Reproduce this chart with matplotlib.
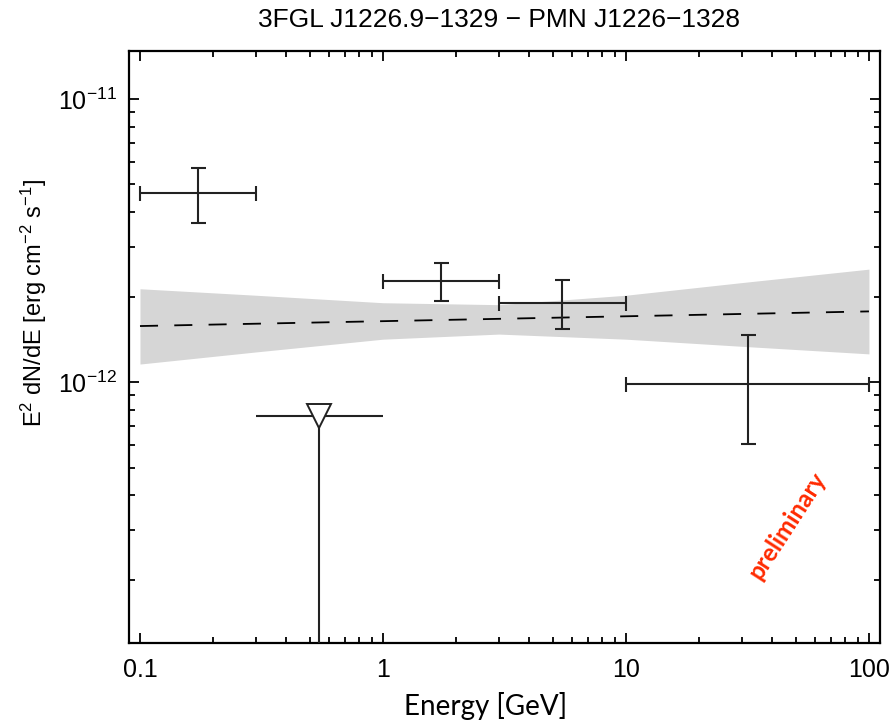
import matplotlib
matplotlib.use("Agg")
import matplotlib.pyplot as plt
from matplotlib.ticker import LogLocator, FixedLocator, FixedFormatter, NullFormatter

plt.rcParams['font.family'] = ['Liberation Sans', 'DejaVu Sans']
plt.rcParams['mathtext.fontset'] = 'custom'
plt.rcParams['mathtext.rm'] = 'Liberation Sans'
plt.rcParams['mathtext.it'] = 'Liberation Sans'
plt.rcParams['mathtext.default'] = 'regular'

# ---- data (energies in GeV, E^2 dN/dE in erg cm^-2 s^-1) ----
pt_E = [0.173, 1.73, 5.47, 31.7]
pt_E_lo = [0.1, 1.0, 3.0, 10.0]
pt_E_hi = [0.3, 3.0, 10.0, 100.0]
pt_F = [4.67e-12, 2.27e-12, 1.90e-12, 9.84e-13]
pt_F_lo = [3.65e-12, 1.93e-12, 1.54e-12, 6.05e-13]
pt_F_hi = [5.72e-12, 2.63e-12, 2.29e-12, 1.47e-12]

ul_E = [0.548]
ul_E_lo = [0.3]
ul_E_hi = [1.0]
ul_F = [7.58e-13]

band_E = [0.1, 0.3, 1.0, 3.0, 10.0, 30.0, 100.0]
band_hi = [2.14e-12, 2.03e-12, 1.91e-12, 1.88e-12, 2.03e-12, 2.25e-12, 2.51e-12]
band_lo = [1.16e-12, 1.28e-12, 1.42e-12, 1.48e-12, 1.42e-12, 1.34e-12, 1.26e-12]

model_E = [0.1, 100.0]
model_F = [1.58e-12, 1.78e-12]

xlim = (0.0901, 111.0)
ylim = (1.2e-13, 1.48e-11)
xticks = [0.1, 1, 10, 100]
xticklabels = ['0.1', '1', '10', '100']
yticks = [1e-12, 1e-11]
yticklabels = [r'$10^{-12}$', r'$10^{-11}$']

fig = plt.figure(figsize=(8.92, 7.25), dpi=100)
ax = fig.add_axes([0.1446, 0.1131, 0.8419, 0.8166])
ax.set_xscale('log')
ax.set_yscale('log')

ax.fill_between(band_E, band_lo, band_hi, color='#d6d6d6', lw=0, zorder=1)
ln, = ax.plot(model_E, model_F, color='black', lw=1.3, zorder=2)
ln.set_dashes((10, 9))

xerr = [[e - l for e, l in zip(pt_E, pt_E_lo)], [h - e for e, h in zip(pt_E, pt_E_hi)]]
yerr = [[f - l for f, l in zip(pt_F, pt_F_lo)], [h - f for f, h in zip(pt_F, pt_F_hi)]]
ax.errorbar(pt_E, pt_F, xerr=xerr, yerr=yerr, fmt='none', ecolor='#222222',
            elinewidth=1.5, capsize=5.4, capthick=1.5, zorder=3)

# upper limit
ax.hlines(ul_F, ul_E_lo, ul_E_hi, color='#222222', lw=1.5, zorder=3)
ax.vlines(ul_E, ylim[0], ul_F, color='#222222', lw=1.5, zorder=3)
ax.plot(ul_E, ul_F, marker='v', ms=17, mfc='white', mec='#222222', mew=1.4,
        ls='none', zorder=4)

ax.set_xlim(*xlim)
ax.set_ylim(*ylim)

ax.xaxis.set_major_locator(FixedLocator(xticks))
ax.xaxis.set_major_formatter(FixedFormatter(xticklabels))
ax.xaxis.set_minor_locator(LogLocator(base=10, subs=range(2, 10)))
ax.xaxis.set_minor_formatter(NullFormatter())
ax.yaxis.set_major_locator(FixedLocator(yticks))
ax.yaxis.set_major_formatter(FixedFormatter(yticklabels))
ax.yaxis.set_minor_locator(LogLocator(base=10, subs=range(2, 10)))
ax.yaxis.set_minor_formatter(NullFormatter())

ax.tick_params(which='both', direction='in', top=True, right=True, width=1.3, colors='black')
ax.tick_params(which='major', length=7, labelsize=18)
ax.tick_params(which='minor', length=4)
ax.tick_params(axis='x', which='major', pad=11)
ax.tick_params(axis='y', which='major', pad=9)
for s in ax.spines.values():
    s.set_linewidth(1.6)

ax.set_title('3FGL J1226.9\u22121329 \u2212 PMN J1226\u22121328', fontsize=19, x=0.493, pad=17)
ax.set_xlabel('Energy [GeV]', fontsize=20, family=['Lato', 'DejaVu Sans'])
ax.xaxis.set_label_coords(0.475, -0.083)
ax.set_ylabel(r'E$^2$ dN/dE [erg cm$^{-2}$ s$^{-1}$]', fontsize=17,
              family=['Liberation Sans Narrow', 'Liberation Sans', 'DejaVu Sans'])
ax.yaxis.set_label_coords(-0.106, 0.574)

ax.text(0.877, 0.198, 'preliminary', transform=ax.transAxes, rotation=57,
        color='#ff2a00', fontsize=17.5, fontweight='bold', family=['Lato', 'DejaVu Sans'],
        ha='center', va='center')

fig.savefig('out.png', dpi=100)
